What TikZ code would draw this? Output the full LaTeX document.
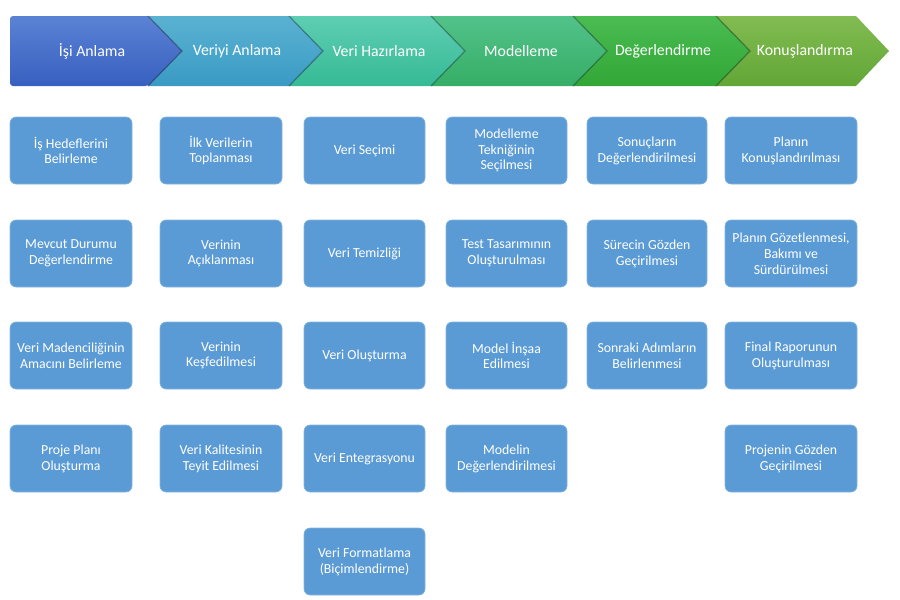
\documentclass[tikz,border=0pt]{standalone}
\usepackage{fontspec}
\setmainfont{Carlito}
\usepackage{xcolor}
\usepackage{tikz}
\usetikzlibrary{calc}
\usetikzlibrary{positioning}

\definecolor{boxblue}{HTML}{5B9BD5}
\definecolor{ctopa}{HTML}{5A82D4}\definecolor{cbota}{HTML}{3860C0}
\definecolor{ctopb}{HTML}{5AB2D2}\definecolor{cbotb}{HTML}{3A9AC4}
\definecolor{ctopc}{HTML}{5ECEB2}\definecolor{cbotc}{HTML}{36BA96}
\definecolor{ctopd}{HTML}{52C28A}\definecolor{cbotd}{HTML}{36AE66}
\definecolor{ctope}{HTML}{4ABC52}\definecolor{cbote}{HTML}{32A636}
\definecolor{ctopf}{HTML}{82BC52}\definecolor{cbotf}{HTML}{62A636}

\tikzset{
  task/.style={rectangle, rounded corners=6pt, fill=boxblue, draw=boxblue!75!white,
    line width=0.6pt, text=white, align=center, minimum width=122pt, minimum height=67pt,
    inner sep=1pt, font=\fontsize{13.8}{15.8}\selectfont},
  phase/.style={text=white, font=\fontsize{15.8}{18}\selectfont},
  notch/.style={black, opacity=0.35, line width=1.2pt}
}

\begin{document}
\begin{tikzpicture}[x=1pt, y=-1pt]
			\useasboundingbox (0,0) rectangle (900,600);
			% phase chevrons
			\shade[top color=ctopf, bottom color=cbotf] (856,16) -- (716,16) -- (750,51) -- (716,86) -- (856,86) -- (889,51) -- cycle;
			\shade[top color=ctope, bottom color=cbote] (716,16) -- (573,16) -- (607,51) -- (573,86) -- (716,86) -- (750,51) -- cycle;
			\shade[top color=ctopd, bottom color=cbotd] (573,16) -- (431,16) -- (465,51) -- (431,86) -- (573,86) -- (607,51) -- cycle;
			\shade[top color=ctopc, bottom color=cbotc] (431,16) -- (289,16) -- (323,51) -- (289,86) -- (431,86) -- (465,51) -- cycle;
			\shade[top color=ctopb, bottom color=cbotb] (289,16) -- (148,16) -- (182,51) -- (148,86) -- (289,86) -- (323,51) -- cycle;
			\shade[top color=ctopa, bottom color=cbota, rounded corners=3pt] (148,16) -- (10,16) -- (10,86) -- (148,86) [sharp corners] -- (182,51) -- cycle;
			\draw[notch] (148,16) -- (182,51) -- (148,86);
			\draw[notch] (289,16) -- (323,51) -- (289,86);
			\draw[notch] (431,16) -- (465,51) -- (431,86);
			\draw[notch] (573,16) -- (607,51) -- (573,86);
			\draw[notch] (716,16) -- (750,51) -- (716,86);
			\node[phase] at (92,51) (isi){İşi Anlama};
			\node[phase] at (237,51) (veriyi){Veriyi Anlama};
			\node[phase] at (379,51) (hazir){Veri Hazırlama};
			\node[phase] at (521,51) (model){Modelleme};
			\node[phase] at (663,51) (deger){Değerlendirme};
			\node[phase] at (805,51) (konus){Konuşlandırma};
			% Isi Anlama
			\node[task] at (71,150.5) (hedef){İş Hedeflerini\\Belirleme};
			\node[task] at (71,253.5) (mevcut){Mevcut Durumu\\Değerlendirme};
			\node[task] at (71,355.5) (amac){Veri Madenciliğinin\\Amacını Belirleme};
			\node[task] at (71,458.5) (proje){Proje Planı\\Oluşturma};
			% Veriyi Anlama
			\node[task] at (221,150.5) (ilk){İlk Verilerin\\Toplanması};
			\node[task] at (221,253.5) (acik){Verinin\\Açıklanması};
			\node[task] at (221,355.5) (kesif){Verinin\\Keşfedilmesi};
			\node[task] at (221,458.5) (kalite){Veri Kalitesinin\\Teyit Edilmesi};
			% Veri Hazirlama
			\node[task, minimum width=121pt] at (364.5,150.5) (secim){Veri Seçimi};
			\node[task, minimum width=121pt] at (364.5,253.5) (temiz){Veri Temizliği};
			\node[task, minimum width=121pt] at (364.5,355.5) (olustur){Veri Oluşturma};
			\node[task, minimum width=121pt] at (364.5,458.5) (enteg){Veri Entegrasyonu};
			\node[task, minimum width=121pt] at (364.5,561.5) (format){Veri Formatlama\\(Biçimlendirme)};
			% Modelleme
			\node[task, minimum width=121pt] at (506.5,150.5) (teknik){Modelleme\\Tekniğinin\\Seçilmesi};
			\node[task, minimum width=121pt] at (506.5,253.5) (test){Test Tasarımının\\Oluşturulması};
			\node[task, minimum width=121pt] at (506.5,355.5) (insa){Model İnşaa\\Edilmesi};
			\node[task, minimum width=121pt] at (506.5,458.5) (mdeger){Modelin\\Değerlendirilmesi};
			% Degerlendirme
			\node[task, minimum width=120pt] at (647,150.5) (sonuc){Sonuçların\\Değerlendirilmesi};
			\node[task, minimum width=120pt] at (647,253.5) (surec){Sürecin Gözden\\Geçirilmesi};
			\node[task, minimum width=120pt] at (647,355.5) (sonraki){Sonraki Adımların\\Belirlenmesi};
			% Konuslandirma
			\node[task, minimum width=132pt] at (791,150.5) (plan){Planın\\Konuşlandırılması};
			\node[task, minimum width=132pt] at (791,253.5) (gozet){Planın Gözetlenmesi,\\Bakımı ve\\Sürdürülmesi};
			\node[task, minimum width=132pt] at (791,355.5) (final){Final Raporunun\\Oluşturulması};
			\node[task, minimum width=132pt] at (791,458.5) (pgozden){Projenin Gözden\\Geçirilmesi};
		\end{tikzpicture}
\end{document}
